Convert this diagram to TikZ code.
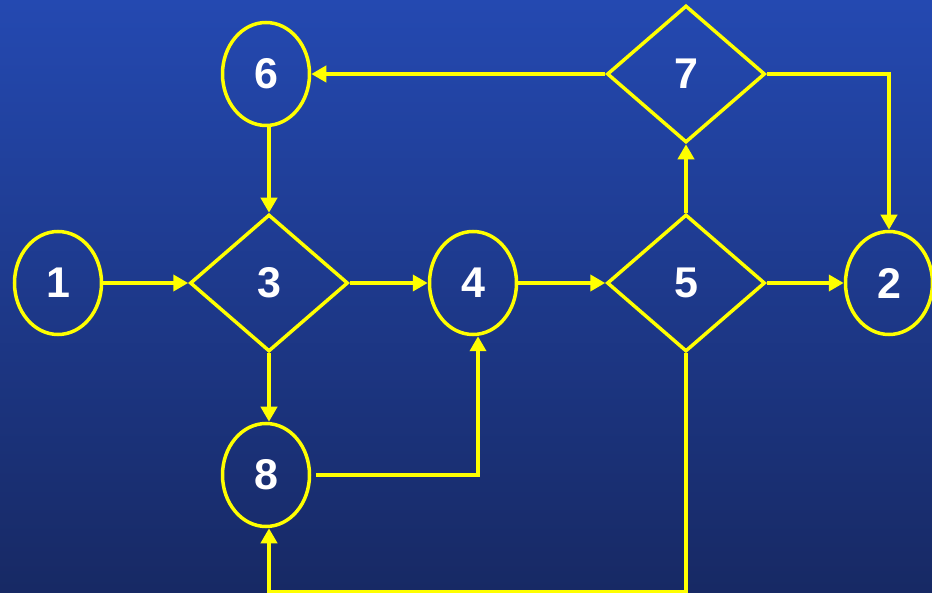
\documentclass[tikz,border=0pt]{standalone}
\usepackage{fontspec}
\setmainfont{Liberation Sans}
\usetikzlibrary{shapes.geometric, arrows.meta}

\definecolor{bgtop}{RGB}{36,73,177}
\definecolor{bgbottom}{RGB}{23,41,100}
\definecolor{flowyellow}{RGB}{255,255,0}

\begin{document}
\begin{tikzpicture}[
    x=1pt, y=-1pt,
    oval/.style={
        ellipse, draw=flowyellow, line width=3.5pt,
        minimum width=87pt, minimum height=103pt,
        inner sep=0pt, text=white,
        font=\fontsize{43}{43}\selectfont\bfseries
    },
    decision/.style={
        diamond, draw=flowyellow, line width=3.5pt,
        minimum width=158pt, minimum height=137pt,
        inner sep=0pt, text=white,
        font=\fontsize{43}{43}\selectfont\bfseries
    },
    arrow/.style={-{Triangle[length=15pt,width=16pt]}, line width=4pt, flowyellow}
]

\useasboundingbox (0,0) rectangle (932,593);
\shade[top color=bgtop, bottom color=bgbottom] (0,0) rectangle (932,593);

\node[oval] (n1) at (58,283) {1};
\node[decision] (n3) at (269,283) {3};
\node[oval] (n4) at (473,283) {4};
\node[decision] (n5) at (686,283) {5};
\node[oval] (n2) at (889,283) {2};
\node[oval] (n6) at (266,74) {6};
\node[decision] (n7) at (686,74) {7};
\node[oval] (n8) at (266,475) {8};

\draw[arrow] (n1) -- (n3);
\draw[arrow] (n3) -- (n4);
\draw[arrow] (n4) -- (n5);
\draw[arrow] (n5) -- (n2);
\draw[arrow] (n5) -- (n7);
\draw[arrow] (n7) -- (n6);
\draw[arrow] (n7.east) -| (n2.north);
\draw[arrow] (n6.south -| n3.north) -- (n3.north);
\draw[arrow] (n3.south) -- (n3.south |- n8.north);
\draw[arrow, shorten <=5pt] (n8.east) -| ([xshift=5pt]n4.south);
\draw[arrow] (n5.south) -- ++(0,239) -| ([xshift=3pt]n8.south);

\end{tikzpicture}
\end{document}
